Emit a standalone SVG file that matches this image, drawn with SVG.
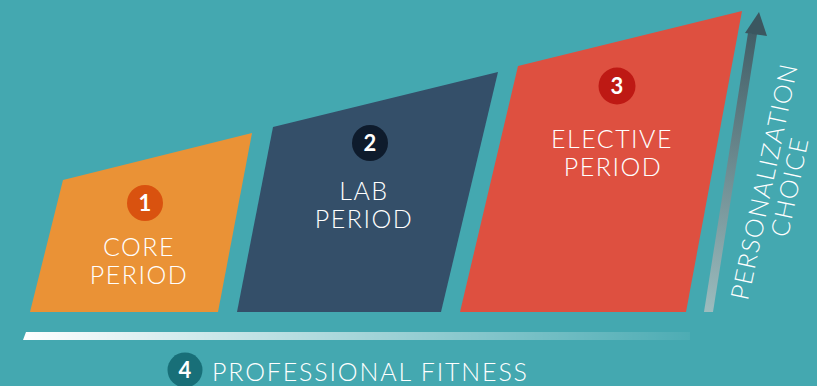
<svg xmlns="http://www.w3.org/2000/svg" width="817" height="386" viewBox="0 0 817 386">
  <defs>
    <style>
      .lbl { font-family: Lato, "Open Sans", "Liberation Sans", sans-serif; font-weight: 300; fill: #ffffff; text-anchor: middle; }
      .big { font-size: 25px; letter-spacing: 1.5px; }
      .num { font-family: Lato, "Liberation Sans", sans-serif; font-weight: 700; font-size: 22px; fill: #ffffff; text-anchor: middle; }
    </style>
    <linearGradient id="arrowGrad" gradientUnits="userSpaceOnUse" x1="708" y1="312" x2="759" y2="12">
      <stop offset="0" stop-color="#9cbcbe"/>
      <stop offset="1" stop-color="#3b5760"/>
    </linearGradient>
    <linearGradient id="barGrad" gradientUnits="userSpaceOnUse" x1="22" y1="0" x2="690" y2="0">
      <stop offset="0" stop-color="#ffffff" stop-opacity="1"/>
      <stop offset="1" stop-color="#ffffff" stop-opacity="0.05"/>
    </linearGradient>
  </defs>

  <rect x="0" y="0" width="817" height="386" fill="#44a8b0"/>

  <g id="core-period">
    <polygon points="63,180 252,133 218,312 30,312" fill="#ea9236"/>
    <circle cx="145" cy="203" r="18" fill="#d9520f"/>
    <text class="num" x="145" y="211">1</text>
    <text class="lbl big" x="139" y="256">CORE</text>
    <text class="lbl big" x="139" y="284">PERIOD</text>
  </g>

  <g id="lab-period">
    <polygon points="273,127 498,72 441,312 237,312" fill="#344f69"/>
    <circle cx="370" cy="143" r="18" fill="#0e1b2c"/>
    <text class="num" x="370" y="151">2</text>
    <text class="lbl big" x="364" y="200">LAB</text>
    <text class="lbl big" x="364" y="228">PERIOD</text>
  </g>

  <g id="elective-period">
    <polygon points="518,66 742,11 686,312 460,312" fill="#de5040"/>
    <circle cx="617" cy="86" r="18.5" fill="#be1914"/>
    <text class="num" x="617" y="94">3</text>
    <text class="lbl big" x="612" y="148">ELECTIVE</text>
    <text class="lbl big" x="613" y="176">PERIOD</text>
  </g>

  <g id="personalization">
    <text class="lbl" font-size="25" transform="translate(764,182) rotate(-78)" x="0" y="9"><tspan x="0" textLength="240" lengthAdjust="spacing">PERSONALIZATION</tspan><tspan x="0" dy="26" textLength="100" lengthAdjust="spacing">CHOICE</tspan></text>
  </g>

  <g id="professional-fitness">
    <circle cx="185" cy="370" r="17.5" fill="#186f78"/>
    <text class="num" x="185" y="378">4</text>
    <text class="lbl" font-size="25" x="212" y="381" style="text-anchor:start" textLength="315" lengthAdjust="spacing">PROFESSIONAL  FITNESS</text>
  </g>

  <g id="connectors">
    <polygon points="704,312 713,312 757,34 748,33" fill="url(#arrowGrad)"/>
    <polygon points="759,12 745,33 767,36" fill="#3b5760"/>
    <polygon points="26,332 690,332 690,340 23,340" fill="url(#barGrad)"/>
  </g>
</svg>
